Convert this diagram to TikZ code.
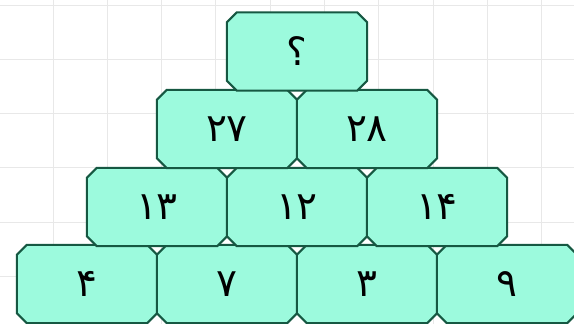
\documentclass[tikz,border=0pt]{standalone}
\usepackage{fontspec}
\newfontfamily\arabicfont[Script=Arabic]{DejaVu Sans}
\pgfdeclarelayer{gridlayer}
\pgfdeclarelayer{background}
\pgfsetlayers{gridlayer,background,main}
\definecolor{boxfill}{RGB}{156,250,221}
\definecolor{boxline}{RGB}{22,88,66}
\definecolor{gridgray}{RGB}{232,232,232}
\tikzset{
  cell/.style={rectangle, minimum width=140pt, minimum height=78pt,
    inner sep=0pt, text=black, font=\arabicfont\fontsize{39}{39}\selectfont},
  cellshape/.style={draw=boxline, line width=2pt, fill=boxfill, line join=miter},
  gridline/.style={draw=gridgray, line width=1pt}
}
\newcommand{\chamf}[1]{%
  \path[cellshape]
    ([xshift=10pt]#1.north west) -- ([xshift=-10pt]#1.north east)
    -- ([yshift=-10pt]#1.north east) -- ([yshift=10pt]#1.south east)
    -- ([xshift=-10pt]#1.south east) -- ([xshift=10pt]#1.south west)
    -- ([yshift=10pt]#1.south west) -- ([yshift=-10pt]#1.north west) -- cycle;}
\begin{document}
\begin{tikzpicture}[x=1pt,y=-1pt]
\useasboundingbox (0,0) rectangle (574,324);
\begin{pgfonlayer}{gridlayer}
\fill[white] (0,0) rectangle (574,324);
\foreach \i in {0,...,10} {
  \draw[gridline] ({53+54.3*\i},0) -- ({53+54.3*\i},324);
}
\foreach \j in {0,...,5} {
  \draw[gridline] (0,{5+54.3*\j}) -- (574,{5+54.3*\j});
}
\end{pgfonlayer}
% row 4
\node[cell] (d1) at (87,284) {۴};
\node[cell] (d2) at (227,284) {۷};
\node[cell] (d3) at (367,284) {۳};
\node[cell] (d4) at (507,284) {۹};
% row 3
\node[cell] (c1) at (157,207) {۱۳};
\node[cell] (c2) at (297,207) {۱۲};
\node[cell] (c3) at (437,207) {۱۴};
% row 2
\node[cell] (b1) at (227,129) {۲۷};
\node[cell] (b2) at (367,129) {۲۸};
% row 1
\node[cell] (a1) at (297,51.5) {؟};
\begin{pgfonlayer}{background}
\foreach \n in {d1,d2,d3,d4,c1,c2,c3,b1,b2,a1} {\chamf{\n}}
\end{pgfonlayer}
\end{tikzpicture}
\end{document}
